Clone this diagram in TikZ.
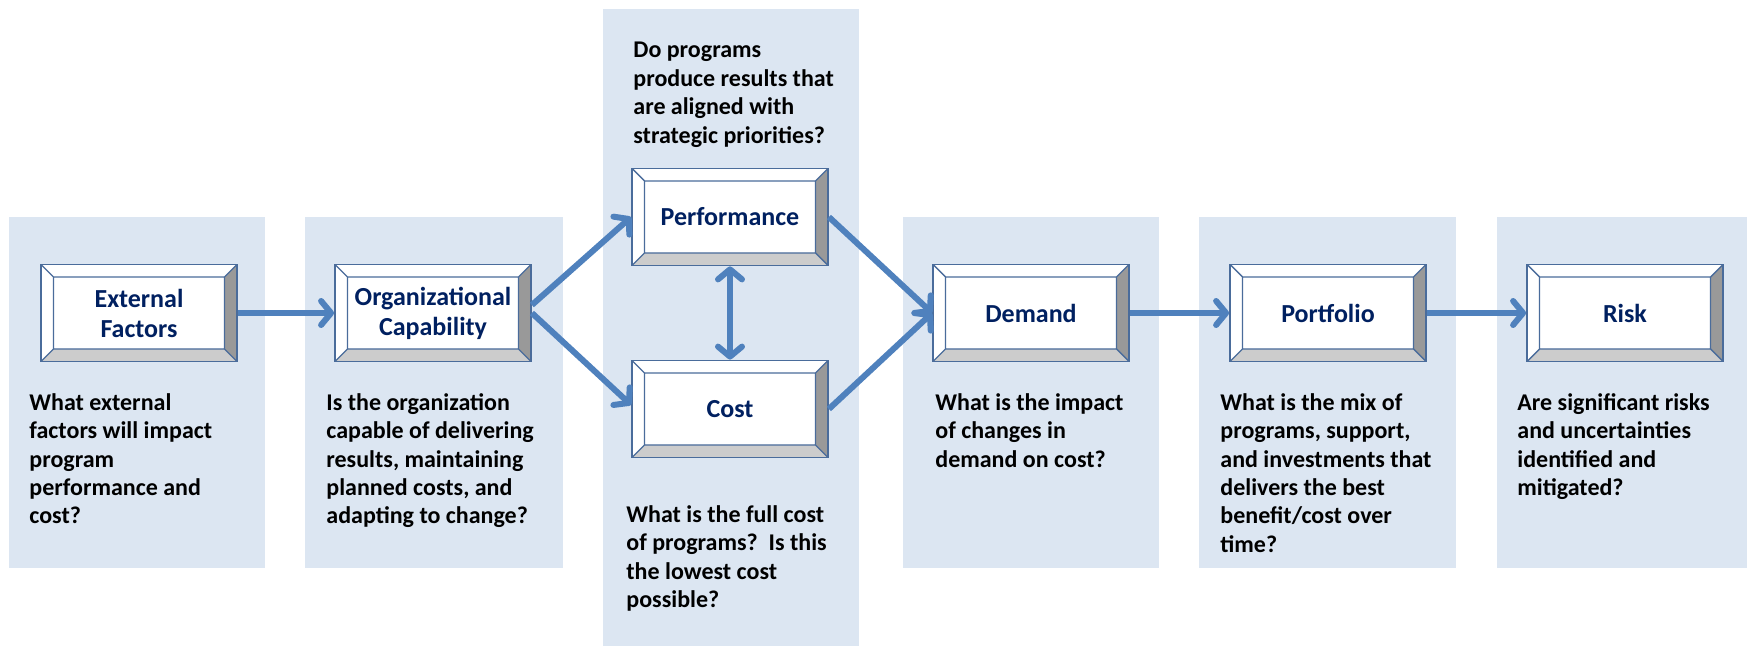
\documentclass[tikz,border=0pt]{standalone}
\usepackage{fontspec}
\setmainfont{Carlito}
\usepackage{xcolor}
\usepackage{tikz}
\usetikzlibrary{arrows.meta}

\definecolor{panelblue}{HTML}{DCE6F2}
\definecolor{arrowblue}{HTML}{4F81BD}
\definecolor{boxline}{HTML}{4A6C9B}
\definecolor{bevside}{HTML}{999999}
\definecolor{bevlow}{HTML}{CCCCCC}
\definecolor{labelblue}{HTML}{002060}

\newcommand{\qfont}{\bfseries\fontsize{12}{14.2}\selectfont}
\newcommand{\lblfont}{\bfseries\fontsize{13}{15}\selectfont}
\newcommand{\bw}{6.25pt}

\tikzset{
  panel/.style={fill=panelblue},
  bevbox/.style={draw=boxline, line width=0.9pt, fill=white, minimum width=98pt,
    minimum height=48.5pt, inner sep=0pt, align=center, text=labelblue, font=\lblfont,
    path picture={
      \path (path picture bounding box.south west) coordinate (bl)
            (path picture bounding box.south east) coordinate (br)
            (path picture bounding box.north east) coordinate (tr)
            (path picture bounding box.north west) coordinate (tl);
      \path ([shift={(\bw,\bw)}]bl) coordinate (ibl)
            ([shift={(-\bw,\bw)}]br) coordinate (ibr)
            ([shift={(-\bw,-\bw)}]tr) coordinate (itr)
            ([shift={(\bw,-\bw)}]tl) coordinate (itl);
      \fill[bevlow] (bl) -- (br) -- (ibr) -- (ibl) -- cycle;
      \fill[bevside] (br) -- (tr) -- (itr) -- (ibr) -- cycle;
      \draw[boxline, line width=0.7pt] (ibl) rectangle (itr)
            (bl) -- (ibl) (br) -- (ibr) (tr) -- (itr) (tl) -- (itl);
    }},
  question/.style={anchor=north west, align=left, inner sep=0pt, font=\qfont},
  flow/.style={draw=arrowblue, line width=3pt,
    -{Straight Barb[length=5pt,width=12pt,round]}},
  both/.style={draw=arrowblue, line width=3pt,
    {Straight Barb[length=5pt,width=12pt,round]}-{Straight Barb[length=5pt,width=12pt,round]}},
}

\begin{document}
\begin{tikzpicture}[x=0.5pt,y=-0.5pt]
		\useasboundingbox (0,0) rectangle (1747,646);
		% background panels
		\fill[panel] (9,217) rectangle (265,568);
		\fill[panel] (305,217) rectangle (563,568);
		\fill[panel] (603,9) rectangle (859,646);
		\fill[panel] (903,217) rectangle (1159,568);
		\fill[panel] (1199,217) rectangle (1456,568);
		\fill[panel] (1497,217) rectangle (1747,568);

		% boxes
		\node[bevbox] (ext) at (139,313) {External\\Factors};
		\node[bevbox] (org) at (433,313) {Organizational\\Capability};
		\node[bevbox] (perf) at (730,217) {Performance};
		\node[bevbox] (cost) at (730,409) {Cost};
		\node[bevbox] (dem) at (1031,313) {Demand};
		\node[bevbox] (port) at (1328,313) {Portfolio};
		\node[bevbox] (risk) at (1625,313) {Risk};

		% arrows
		\draw[flow] (ext.east) -- (org.west);
		\draw[flow] ([yshift=4pt]org.east) -- (perf.west);
		\draw[flow] (org.east) -- ([yshift=2pt]cost.west);
		\draw[both] (perf.south) -- (cost.north);
		\draw[flow] (perf.east) -- (dem.west);
		\draw[flow] (cost.east) -- (dem.west);
		\draw[flow] (dem.east) -- (port.west);
		\draw[flow] (port.east) -- (risk.west);

		% questions
		\node[question] (qext) at (29,393) {What external\\factors will impact\\program\\performance and\\cost?};
		\node[question] (qorg) at (326,393) {Is the organization\\capable of delivering\\results, maintaining\\planned costs, and\\adapting to change?};
		\node[question] (qperf) at (633,42) {Do programs\\produce results that\\are aligned with\\strategic priorities?};
		\node[question] (qcost) at (626,505) {What is the full cost\\of programs?\ \ Is this\\the lowest cost\\possible?};
		\node[question] (qdem) at (935,393) {What is the impact\\of changes in\\demand on cost?};
		\node[question] (qport) at (1220,393) {What is the mix of\\programs, support,\\and investments that\\delivers the best\\benefit/cost over\\time?};
		\node[question] (qrisk) at (1517,393) {Are significant risks\\and uncertainties\\identified and\\mitigated?};
	\end{tikzpicture}
\end{document}
